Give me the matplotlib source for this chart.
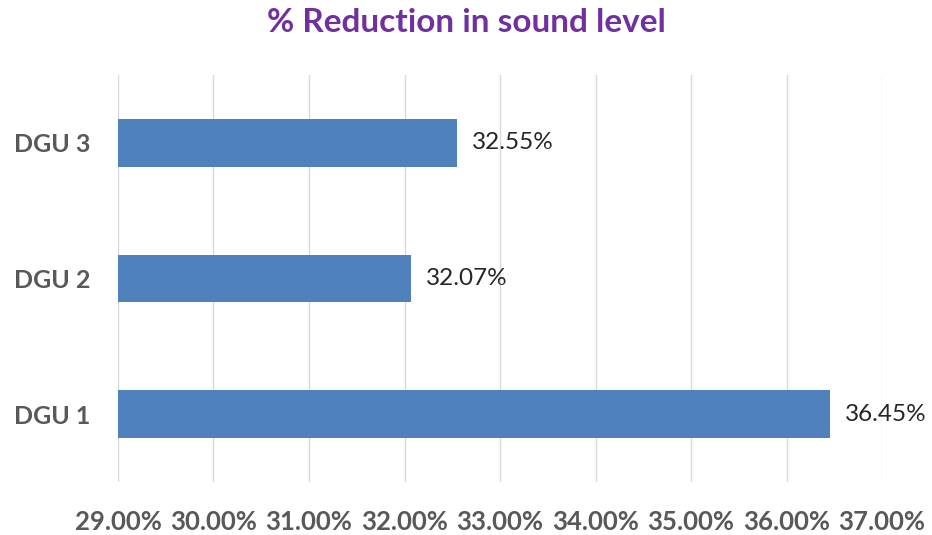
import matplotlib.pyplot as plt
import numpy as np

# data
units = ['DGU 1', 'DGU 2', 'DGU 3']
reduction = [36.45, 32.07, 32.55]
xticks = [29, 30, 31, 32, 33, 34, 35, 36, 37]

plt.rcParams['font.family'] = ['Lato', 'DejaVu Sans']

fig = plt.figure(figsize=(9.32, 5.35), dpi=100)
ax = fig.add_axes([0.1266, 0.099, 0.8198, 0.761])

y = np.arange(len(units))
ax.barh(y, [r - 29 for r in reduction], left=29, height=0.35, color='#4F81BD', zorder=3)

for yi, r in zip(y, reduction):
    ax.annotate('%.2f%%' % r, (r, yi), xytext=(15, 0), textcoords='offset pixels',
                va='center', ha='left', fontsize=17.5, color='#262626')

ax.set_xlim(29, 37)
ax.set_ylim(-0.5, 2.5)
ax.set_xticks(xticks)
ax.set_xticklabels(['%.2f%%' % v for v in xticks], fontsize=18.5, fontweight='bold', color='#595959')
ax.set_yticks(y)
ax.set_yticklabels(units, fontsize=18, fontweight='bold', color='#595959')
ax.tick_params(axis='x', length=0, pad=20)
ax.tick_params(axis='y', length=0, pad=20)
ax.grid(axis='x', color='#D9D9D9', linewidth=1, zorder=0)
for s in ax.spines.values():
    s.set_visible(False)

fig.text(0.5, 0.958, '% Reduction in sound level', ha='center', va='center',
         fontsize=24, fontweight='bold', color='#7030A0')

fig.savefig('out.png', dpi=100)
